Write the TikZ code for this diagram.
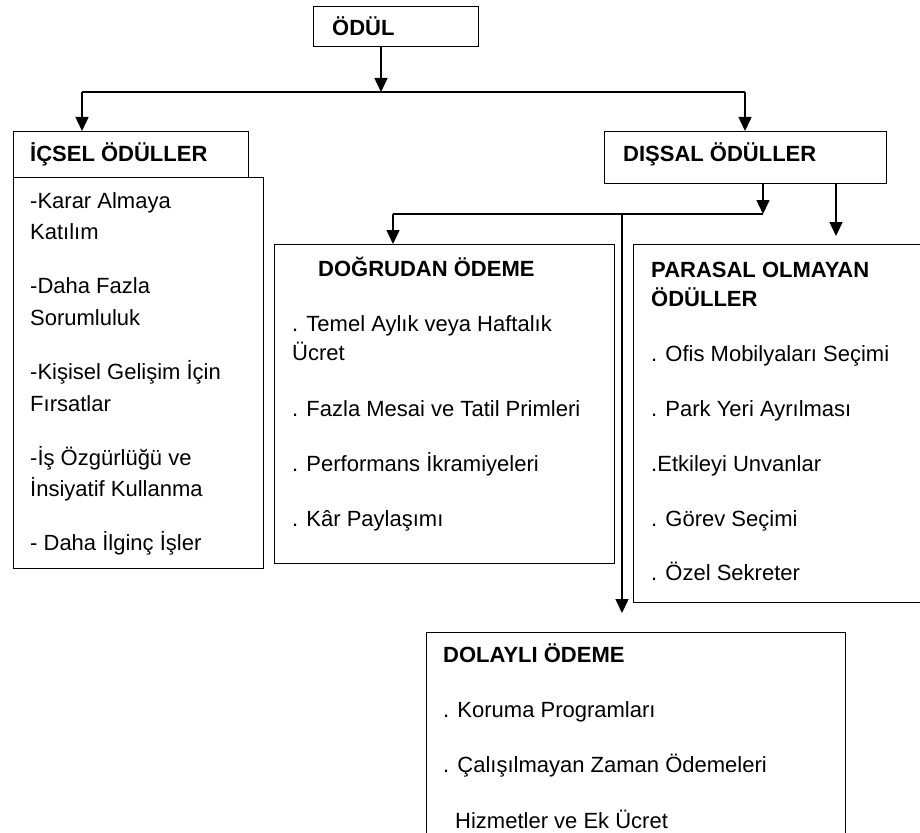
\documentclass[tikz,border=0pt]{standalone}
\usepackage{fontspec}
\setmainfont{Liberation Sans}
\usetikzlibrary{arrows.meta}

\begin{document}
\begin{tikzpicture}[x=1pt,y=-1pt,
		box/.style={draw,line width=1.2pt,anchor=north west,inner sep=0pt},
		txt/.style={anchor=base west,inner sep=0pt,font=\fontsize{22}{26}\selectfont},
		head/.style={txt,font=\fontsize{22}{26}\selectfont\bfseries},
		conn/.style={line width=1.5pt},
		arr/.style={conn,-{Triangle[width=13pt,length=14pt]}}]
		\useasboundingbox[clip] (0,0) rectangle (920,832);
		\fill[white] (0,0) rectangle (920,832);
		\node[box,minimum width=165pt,minimum height=40pt] (odul) at (313,6) {};
		\node[box,minimum width=235pt,minimum height=46pt] (icsel) at (13,131) {};
		\node[box,minimum width=250pt,minimum height=391pt] (icselb) at (13,177) {};
		\node[box,minimum width=282pt,minimum height=52pt] (dissal) at (604,131) {};
		\node[box,minimum width=340pt,minimum height=319pt] (dogrudan) at (274,244) {};
		\node[box,minimum width=300pt,minimum height=358pt] (parasal) at (633,244) {};
		\node[box,minimum width=419pt,minimum height=220pt] (dolayli) at (426,632) {};
		\node[head] (odult) at (332,36) {ÖDÜL};
		\node[head] (icselt) at (30,161) {İÇSEL ÖDÜLLER};
		\node[head] (dissalt) at (623,161) {DIŞSAL ÖDÜLLER};
		\node[head] (dogrudant) at (318,276) {DOĞRUDAN ÖDEME};
		\node[head] (parasalt) at (651,277) {PARASAL OLMAYAN};
		\node[head] (parasalu) at (651,306) {ÖDÜLLER};
		\node[head] (dolaylit) at (443,662) {DOLAYLI ÖDEME};
		\node[txt] (ic1) at (30,208) {-Karar Almaya};
		\node[txt] (ic2) at (30,239) {Katılım};
		\node[txt] (ic3) at (30,293) {-Daha Fazla};
		\node[txt] (ic4) at (30,325) {Sorumluluk};
		\node[txt] (ic5) at (30,379) {-Kişisel Gelişim İçin};
		\node[txt] (ic6) at (30,411) {Fırsatlar};
		\node[txt] (ic7) at (30,465) {-İş Özgürlüğü ve};
		\node[txt] (ic8) at (30,496) {İnsiyatif Kullanma};
		\node[txt] (ic9) at (30,550) {- Daha İlginç İşler};
		\node[txt] (do1) at (292,331) {. Temel Aylık veya Haftalık};
		\node[txt] (do2) at (292,360) {Ücret};
		\node[txt] (do3) at (292,416) {. Fazla Mesai ve Tatil Primleri};
		\node[txt] (do4) at (292,471) {. Performans İkramiyeleri};
		\node[txt] (do5) at (292,526) {. Kâr Paylaşımı};
		\node[txt] (pa1) at (651,361) {. Ofis Mobilyaları Seçimi};
		\node[txt] (pa2) at (651,416) {. Park Yeri Ayrılması};
		\node[txt] (pa3) at (651,471) {.Etkileyi Unvanlar};
		\node[txt] (pa4) at (651,526) {. Görev Seçimi};
		\node[txt] (pa5) at (651,580) {. Özel Sekreter};
		\node[txt] (dl1) at (443,717) {. Koruma Programları};
		\node[txt] (dl2) at (443,772) {. Çalışılmayan Zaman Ödemeleri};
		\node[txt] (dl3) at (455,828) {Hizmetler ve Ek Ücret};
		\coordinate (so) at (381,92);
		\coordinate (sl) at (82,92);
		\coordinate (sr) at (745,92);
		\coordinate (da) at (763,214);
		\coordinate (dl) at (393,214);
		\coordinate (dm) at (622,214);
		\coordinate (dt) at (622,613);
		\coordinate (pa) at (836,236);
		\draw[arr] (so |- odul.south) -- (so);
		\draw[conn] (sl) -- (sr);
		\draw[arr] (sl) -- (sl |- icsel.north);
		\draw[arr] (sr) -- (sr |- dissal.north);
		\draw[arr] (da |- dissal.south) -- (da);
		\draw[conn] (da) -- (dl);
		\draw[arr] (dl) -- (dl |- dogrudan.north);
		\draw[arr] (dm) -- (dt);
		\draw[arr] (pa |- dissal.south) -- (pa);
	\end{tikzpicture}
\end{document}
